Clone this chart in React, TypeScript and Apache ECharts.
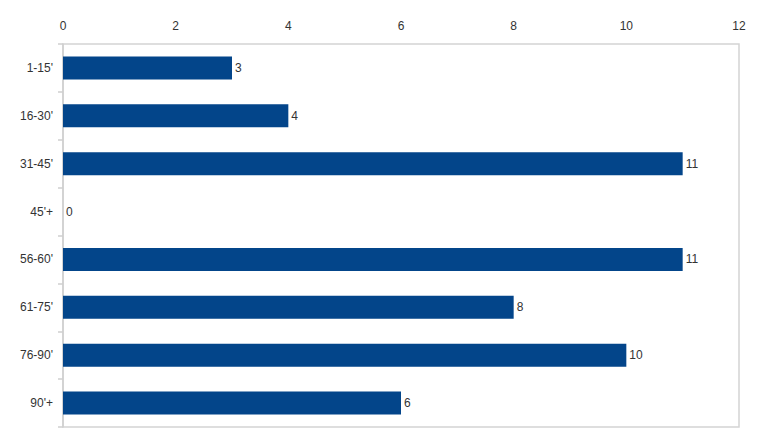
import React, { useEffect, useRef } from "react";
import * as echarts from "echarts";

const categories = ["1-15'", "16-30'", "31-45'", "45'+", "56-60'", "61-75'", "76-90'", "90'+"];
const values = [3, 4, 11, 0, 11, 8, 10, 6];
const axisMax = 12;
const axisInterval = 2;

export default function App() {
  const ref = useRef<HTMLDivElement>(null);
  useEffect(() => {
    if (!ref.current) return;
    const chart = echarts.init(ref.current, null, { renderer: "svg" });
    chart.setOption({
      animation: false,
      backgroundColor: "#ffffff",
      grid: {
        left: 63,
        top: 44,
        width: 676,
        height: 383,
        show: true,
        borderColor: "#d4d4d4",
        borderWidth: 1.5,
        backgroundColor: "transparent",
      },
      xAxis: {
        type: "value",
        position: "top",
        min: 0,
        max: axisMax,
        interval: axisInterval,
        axisLine: { show: false },
        axisTick: { show: false },
        splitLine: { show: false },
        axisLabel: {
          color: "#333333",
          fontFamily: "Liberation Sans, Arial, sans-serif",
          fontSize: 12,
          margin: 12,
        },
      },
      yAxis: {
        type: "category",
        data: categories,
        inverse: true,
        axisLine: { show: true, lineStyle: { color: "#cfcfcf", width: 1.5 } },
        axisTick: { show: true, length: 5, inside: false, lineStyle: { color: "#cfcfcf", width: 1.5 } },
        axisLabel: {
          color: "#333333",
          fontFamily: "Liberation Sans, Arial, sans-serif",
          fontSize: 12,
          margin: 10,
        },
      },
      series: [
        {
          type: "bar",
          data: values,
          barCategoryGap: "52%",
          itemStyle: { color: "#03458a" },
          label: {
            show: true,
            position: "right",
            distance: 3,
            color: "#333333",
            fontFamily: "Liberation Sans, Arial, sans-serif",
            fontSize: 12,
          },
        },
      ],
    });
    return () => chart.dispose();
  }, []);
  return (
    <div
      ref={ref}
      style={{ position: "absolute", left: 0, top: 0, width: 767, height: 448 }}
    />
  );
}
